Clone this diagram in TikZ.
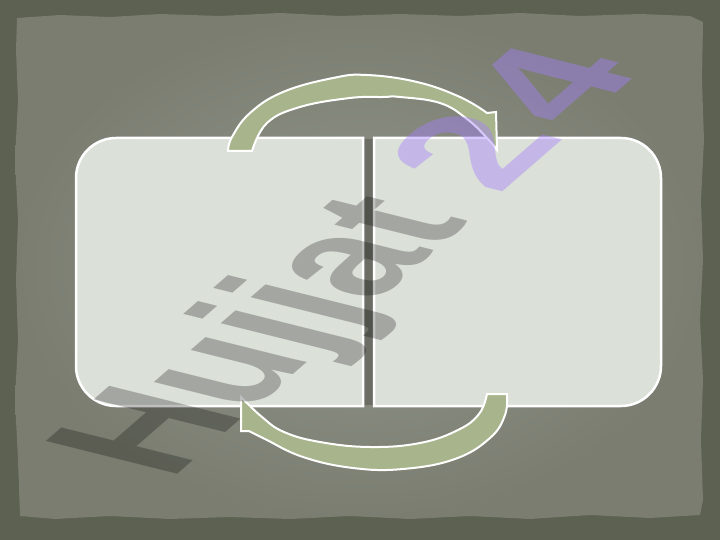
\documentclass[tikz,border=0pt]{standalone}
\usepackage{fontspec}
\newfontfamily\wmfont{Liberation Sans}
\definecolor{frame}{RGB}{92,97,82}
\definecolor{paperin}{RGB}{148,150,140}
\definecolor{paperout}{RGB}{122,125,112}
\definecolor{boxfill}{RGB}{219,224,216}
\definecolor{gapdark}{RGB}{108,110,102}
\definecolor{arrowfill}{RGB}{168,180,140}
\definecolor{wmpurple}{RGB}{165,128,255}
\tikzset{
  boxstyle/.style={fill=boxfill, draw=white, line width=2.5pt},
  arrowstyle/.style={fill=arrowfill, draw=white, line width=2pt, line join=miter},
  wmgray/.style={transform shape, anchor=base west, inner sep=0pt, text=black, text opacity=0.25,
     font=\wmfont\bfseries\fontsize{100}{100}\selectfont},
  wmdigit/.style={transform shape, anchor=base west, inner sep=0pt, text=wmpurple, text opacity=0.42,
     xscale=1.25, font=\wmfont\bfseries\fontsize{92}{92}\selectfont}
}
\begin{document}
\begin{tikzpicture}[x=1pt,y=-1pt]
\useasboundingbox (0,0) rectangle (720,540);
% frame
\fill[frame] (0,0) rectangle (720,540);
% paper
\shade[inner color=paperin, outer color=paperout]
  (17,18) -- (60,15) -- (110,17) -- (160,14) -- (220,16) -- (280,13) -- (340,16) -- (400,14) -- (460,16) -- (520,13) -- (580,16) -- (640,14) -- (690,16) -- (703,22)
  -- (702,80) -- (704,140) -- (701,200) -- (703,260) -- (700,320) -- (703,380) -- (701,440) -- (703,500) -- (700,515)
  -- (650,518) -- (590,515) -- (530,519) -- (470,516) -- (410,519) -- (350,516) -- (290,519) -- (230,517) -- (170,519) -- (110,516) -- (55,519) -- (20,516)
  -- (18,460) -- (15,400) -- (18,340) -- (16,280) -- (18,220) -- (15,160) -- (18,100) -- (16,50) -- cycle;
% gap strip
\fill[gapdark] (363,139) rectangle (374,405);
% boxes
\path[boxstyle] (363,138) -- (116,138) .. controls (94,138) and (76,156) .. (76,178) -- (76,366) .. controls (76,388) and (94,406) .. (116,406) -- (363,406) -- cycle;
\path[boxstyle] (374,138) -- (621,138) .. controls (643,138) and (661,156) .. (661,178) -- (661,366) .. controls (661,388) and (643,406) .. (621,406) -- (374,406) -- cycle;
% top arrow
\path[arrowstyle] plot[smooth, tension=0.7] coordinates {(228,151) (232,137) (250,113) (283,92) (333,78) (367,75) (417,82) (460,97) (487,113)}
  -- (496,112) -- (497,150)
  -- plot[smooth, tension=0.7] coordinates {(497,150) (487,138) (467,119) (440,103) (400,97) (383,97) (350,98) (300,107) (267,123) (252,151)} -- cycle;
% bottom arrow
\path[arrowstyle] plot[smooth, tension=0.7] coordinates {(507,394) (505,415) (490,438) (455,459) (403,469) (353,468) (303,457) (265,439) (249,431)}
  -- (241,431) -- (241,397)
  -- plot[smooth, tension=0.7] coordinates {(241,397) (262,417) (284,432) (320,442) (370,447) (420,443) (458,430) (479,414) (487,394)} -- cycle;
% watermark
\begin{scope}[shift={(170,481)}, cm={1.079,0.938,-1.911,0.477,(0,0)}]
  \node[wmgray] (wm) at (0pt,0pt) {Hujjat};
  \node[wmdigit] (wm2) at (304pt,0pt) {2};
  \node[wmdigit] (wm4) at (376pt,0pt) {4};
\end{scope}
\end{tikzpicture}
\end{document}
